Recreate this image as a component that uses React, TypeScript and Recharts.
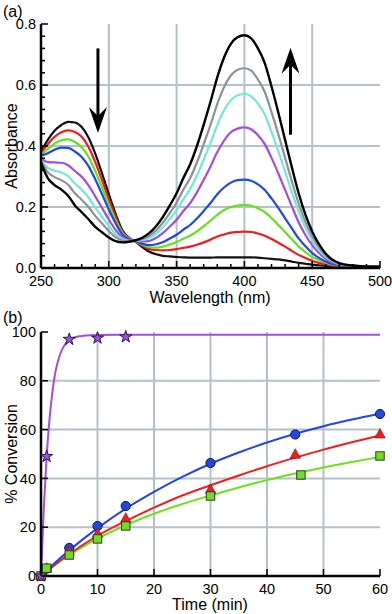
import React from "react";
import { LineChart, Line, XAxis, YAxis, CartesianGrid, ReferenceLine, Symbols } from "recharts";

const FONT = '"Liberation Sans", Arial, Helvetica, sans-serif';

// ---- (a) spectra ----
const wavelengths = [
  250, 255, 260, 265, 270, 275, 280, 285, 290, 295,
  300, 305, 310, 315, 320, 325, 330, 335, 340, 345,
  350, 355, 360, 365, 370, 375, 380, 385, 390, 395,
  400, 405, 410, 415, 420, 425, 430, 435, 440, 445,
  450, 455, 460, 465, 470, 480, 490, 500,
];
const absStart = [
  0.381, 0.42, 0.45, 0.469, 0.479, 0.477, 0.462, 0.428, 0.375, 0.31,
  0.242, 0.178, 0.124, 0.099, 0.085, 0.068, 0.053, 0.045, 0.04, 0.038,
  0.036, 0.035, 0.034, 0.034, 0.034, 0.034, 0.035, 0.035, 0.035, 0.035,
  0.035, 0.035, 0.034, 0.032, 0.03, 0.028, 0.025, 0.021, 0.017, 0.014,
  0.011, 0.009, 0.007, 0.006, 0.005, 0.005, 0.004, 0.004,
];
const absRed = [
  0.377, 0.406, 0.43, 0.445, 0.451, 0.446, 0.43, 0.397, 0.347, 0.288,
  0.226, 0.168, 0.119, 0.098, 0.086, 0.073, 0.062, 0.059, 0.058, 0.059,
  0.062, 0.066, 0.07, 0.076, 0.084, 0.093, 0.103, 0.11, 0.116, 0.118,
  0.119, 0.118, 0.113, 0.106, 0.095, 0.083, 0.07, 0.056, 0.043, 0.033,
  0.024, 0.017, 0.012, 0.008, 0.006, 0.005, 0.004, 0.004,
];
const absGreen = [
  0.372, 0.39, 0.408, 0.419, 0.422, 0.413, 0.396, 0.365, 0.318, 0.264,
  0.208, 0.157, 0.115, 0.096, 0.086, 0.076, 0.068, 0.067, 0.07, 0.077,
  0.085, 0.096, 0.106, 0.12, 0.137, 0.155, 0.174, 0.19, 0.2, 0.205,
  0.207, 0.204, 0.196, 0.183, 0.164, 0.141, 0.118, 0.094, 0.071, 0.052,
  0.036, 0.026, 0.017, 0.011, 0.008, 0.006, 0.004, 0.004,
];
const absBlue = [
  0.368, 0.376, 0.388, 0.395, 0.394, 0.382, 0.364, 0.334, 0.291, 0.242,
  0.192, 0.147, 0.11, 0.094, 0.087, 0.079, 0.075, 0.078, 0.085, 0.097,
  0.109, 0.126, 0.141, 0.162, 0.187, 0.213, 0.242, 0.264, 0.28, 0.288,
  0.29, 0.286, 0.274, 0.256, 0.228, 0.197, 0.163, 0.13, 0.097, 0.071,
  0.049, 0.033, 0.021, 0.013, 0.009, 0.006, 0.004, 0.004,
];
const absPurple = [
  0.36, 0.347, 0.346, 0.345, 0.337, 0.318, 0.299, 0.271, 0.235, 0.197,
  0.159, 0.125, 0.101, 0.091, 0.089, 0.087, 0.089, 0.099, 0.115, 0.136,
  0.158, 0.187, 0.213, 0.248, 0.289, 0.333, 0.38, 0.418, 0.445, 0.457,
  0.461, 0.455, 0.435, 0.406, 0.361, 0.31, 0.256, 0.202, 0.15, 0.108,
  0.075, 0.049, 0.03, 0.018, 0.011, 0.007, 0.005, 0.004,
];
const absCyan = [
  0.355, 0.328, 0.319, 0.313, 0.301, 0.277, 0.257, 0.231, 0.198, 0.168,
  0.138, 0.112, 0.095, 0.089, 0.089, 0.092, 0.099, 0.113, 0.134, 0.161,
  0.19, 0.226, 0.259, 0.303, 0.355, 0.41, 0.469, 0.517, 0.55, 0.566,
  0.571, 0.563, 0.539, 0.503, 0.446, 0.383, 0.316, 0.248, 0.185, 0.133,
  0.091, 0.06, 0.036, 0.022, 0.013, 0.007, 0.005, 0.004,
];
const absGray = [
  0.35, 0.314, 0.298, 0.288, 0.273, 0.245, 0.224, 0.2, 0.171, 0.146,
  0.121, 0.101, 0.09, 0.088, 0.09, 0.095, 0.106, 0.124, 0.149, 0.18,
  0.214, 0.257, 0.295, 0.346, 0.406, 0.469, 0.538, 0.593, 0.631, 0.65,
  0.655, 0.647, 0.618, 0.577, 0.511, 0.439, 0.362, 0.284, 0.211, 0.151,
  0.104, 0.068, 0.041, 0.024, 0.014, 0.008, 0.005, 0.004,
];
const absEnd = [
  0.345, 0.295, 0.272, 0.257, 0.237, 0.205, 0.183, 0.16, 0.135, 0.117,
  0.1, 0.088, 0.084, 0.086, 0.091, 0.1, 0.115, 0.138, 0.168, 0.205,
  0.245, 0.295, 0.34, 0.4, 0.47, 0.545, 0.625, 0.69, 0.735, 0.757,
  0.763, 0.753, 0.72, 0.672, 0.595, 0.51, 0.42, 0.33, 0.245, 0.175,
  0.12, 0.078, 0.047, 0.027, 0.016, 0.008, 0.005, 0.004,
];

const spectra = [
  { key: "start", color: "#111111", values: absStart },
  { key: "red", color: "#ee1c1c", values: absRed },
  { key: "green", color: "#66e01c", values: absGreen },
  { key: "blue", color: "#1f47e6", values: absBlue },
  { key: "purple", color: "#a34be6", values: absPurple },
  { key: "cyan", color: "#70e8da", values: absCyan },
  { key: "gray", color: "#8a9296", values: absGray },
  { key: "end", color: "#000000", values: absEnd },
];
const specData = wavelengths.map((w, i) => {
  const row: any = { w };
  spectra.forEach((s) => (row[s.key] = s.values[i]));
  return row;
});

const wlTicks = [250, 260, 270, 280, 290, 300, 310, 320, 330, 340, 350, 360, 370, 380, 390, 400, 410, 420, 430, 440, 450, 460, 470, 480, 490, 500];
const absTicks = [0, 0.04, 0.08, 0.12, 0.16, 0.2, 0.24, 0.28, 0.32, 0.36, 0.4, 0.44, 0.48, 0.52, 0.56, 0.6, 0.64, 0.68, 0.72, 0.76, 0.8];
const wlGrid = [300, 350, 400, 450];
const absGrid = [0.2, 0.4, 0.6];
const arrowDown = [{ x: 292, y: 0.72 }, { x: 292, y: 0.443 }];
const arrowUp = [{ x: 434, y: 0.437 }, { x: 434, y: 0.722 }];

// ---- (b) kinetics ----
const starTimes = [0, 1, 5, 10, 15];
const starConv = [0, 49, 97, 97.5, 98];
const circleTimes = [0, 1, 5, 10, 15, 30, 45, 60];
const circleConv = [0, 3, 11.5, 20.5, 28.7, 46.3, 58, 66.4];
const triTimes = [0, 1, 5, 10, 15, 30, 45, 60];
const triConv = [0, 3, 10, 17.3, 23.5, 35.3, 49.7, 58];
const squareTimes = [0, 1, 5, 10, 15, 30, 46, 60];
const squareConv = [0, 3.2, 8.6, 15.2, 20.5, 32.8, 41.4, 49.2];

const fitTimes = [0, 2, 5, 10, 15, 20, 25, 30, 35, 40, 45, 50, 55, 60];
const blueFit = [0, 4.4, 10.5, 19.6, 27.6, 34.5, 40.6, 46, 50.6, 54.7, 58.3, 61.4, 64.1, 66.5];
const redFit = [0, 3.8, 9, 16.5, 22.5, 28, 33, 37.2, 41.2, 45, 48.5, 51.8, 54.8, 57.6];
const greenFit = [0, 3.6, 8.5, 15.3, 20.8, 25.5, 29.5, 33, 36.3, 39.3, 42, 44.5, 46.7, 48.8];
const purpleFitTimes = [0, 0.5, 1, 1.5, 2, 2.5, 3, 3.5, 4, 5, 6, 7, 8, 10, 15, 20, 30, 40, 50, 60];
const purpleFit = [0, 28, 49, 64, 75, 83, 88, 91.5, 94, 96.6, 97.8, 98.3, 98.6, 98.8, 98.9, 98.9, 98.9, 98.9, 98.9, 98.9];

const timeTicks = [0, 10, 20, 30, 40, 50, 60];
const convTicks = [0, 20, 40, 60, 80, 100];
const timeGrid = [10, 20, 30, 40, 50];
const convGrid = [20, 40, 60, 80];

const pts = (t: number[], v: number[]) => t.map((x, i) => ({ t: x, p: v[i] }));

const PURPLE = "#a34be6";
const BLUE = "#2445e6";
const RED = "#f01e1e";
const GREEN = "#6ee01e";
const GRID = "#b3c1c8";
const FRAME = { stroke: "#000", strokeWidth: 2.5 };

type Orient = "bottom" | "top" | "left" | "right";
function axisTick(orient: Orient, isMajor: (v: number) => boolean, fmt?: (v: number) => string) {
  return (p: any) => {
    const v = p.payload.value;
    const major = isMajor(v);
    const len = major ? 7 : 4;
    const { x, y } = p;
    let line;
    if (orient === "bottom") line = <line x1={x} x2={x} y1={y} y2={y - len} />;
    else if (orient === "top") line = <line x1={x} x2={x} y1={y} y2={y + len} />;
    else if (orient === "left") line = <line x1={x} x2={x + len} y1={y} y2={y} />;
    else line = <line x1={x} x2={x - len} y1={y} y2={y} />;
    const txt = { fontFamily: FONT, fontSize: 14.5, fill: "#000", stroke: "none" };
    return (
      <g stroke="#000" strokeWidth={1.5}>
        {line}
        {fmt && major && orient === "bottom" && (
          <text x={x} y={y + 8} dy="0.71em" textAnchor="middle" {...txt}>{fmt(v)}</text>
        )}
        {fmt && major && orient === "left" && (
          <text x={x - 5} y={y} dy="0.36em" textAnchor="end" {...txt}>{fmt(v)}</text>
        )}
      </g>
    );
  };
}

const wlMajor = (v: number) => v % 50 === 0;
const absMajor = (v: number) => Math.abs(v * 5 - Math.round(v * 5)) < 1e-6;
const all = () => true;

function Arrow(p: any) {
  const { x1, y1, x2, y2 } = p;
  const dir = y2 > y1 ? 1 : -1;
  const notch = y2 - dir * 17;
  const back = y2 - dir * 26;
  return (
    <g>
      <line x1={x1} y1={y1} x2={x2} y2={notch} stroke="#000" strokeWidth={3} />
      <polygon points={`${x2},${y2} ${x2 - 9},${back} ${x2},${notch} ${x2 + 9},${back}`} fill="#000" />
    </g>
  );
}

function Star(p: any) {
  return <Symbols key={p.key} cx={p.cx} cy={p.cy} type="star" size={46} fill={PURPLE} stroke="#2a1a3a" strokeWidth={1} />;
}
function Circle(p: any) {
  return <circle key={p.key} cx={p.cx} cy={p.cy} r={4.6} fill={BLUE} stroke="#101840" strokeWidth={1} />;
}
function Tri(p: any) {
  const { cx, cy } = p;
  return <polygon key={p.key} points={`${cx},${cy - 6} ${cx + 5.2},${cy + 3.5} ${cx - 5.2},${cy + 3.5}`} fill={RED} stroke="#801010" strokeWidth={0.6} />;
}
function Square(p: any) {
  const { cx, cy } = p;
  return <rect key={p.key} x={cx - 4.2} y={cy - 4.2} width={8.4} height={8.4} fill={GREEN} stroke="#333" strokeWidth={1} />;
}

export default function App() {
  const title = { fontFamily: FONT, fontSize: 16, fill: "#000" };
  return (
    <div style={{ position: "absolute", left: 0, top: 0, width: 392, height: 614, background: "#fff" }}>
      <div style={{ position: "absolute", left: 0, top: 0 }}>
        <LineChart width={392} height={310} data={specData} margin={{ top: 24, right: 12, left: 0, bottom: 0 }}>
          <CartesianGrid stroke={GRID} strokeWidth={2} verticalValues={wlGrid} horizontalValues={absGrid} />
          <XAxis dataKey="w" type="number" domain={[250, 500]} ticks={wlTicks} interval={0}
            height={42} tickSize={0} tickMargin={0} tickLine={false} axisLine={FRAME}
            tick={axisTick("bottom", wlMajor, (v) => String(v))} />
          <XAxis xAxisId="top" orientation="top" type="number" domain={[250, 500]} ticks={wlTicks} interval={0} allowDataOverflow
            height={0} tickSize={0} tickMargin={0} tickLine={false} axisLine={FRAME} tick={axisTick("top", wlMajor)} />
          <YAxis type="number" domain={[0, 0.8]} ticks={absTicks} interval={0} width={41}
            tickSize={0} tickMargin={0} tickLine={false} axisLine={FRAME}
            tick={axisTick("left", absMajor, (v) => v.toFixed(1))} />
          <YAxis yAxisId="right" orientation="right" type="number" domain={[0, 0.8]} ticks={absTicks} interval={0} allowDataOverflow
            width={0} tickSize={0} tickMargin={0} tickLine={false} axisLine={FRAME} tick={axisTick("right", absMajor)} />
          {spectra.map((s) => (
            <Line key={s.key} type="monotone" dataKey={s.key} stroke={s.color} strokeWidth={s.key === "end" ? 2.4 : 2.2}
              dot={false} activeDot={false} isAnimationActive={false} />
          ))}
          <ReferenceLine segment={arrowDown} shape={Arrow} ifOverflow="visible" />
          <ReferenceLine segment={arrowUp} shape={Arrow} ifOverflow="visible" />
        </LineChart>
      </div>
      <div style={{ position: "absolute", left: 0, top: 310 }}>
        <LineChart width={392} height={304} margin={{ top: 22, right: 12, left: 0, bottom: 0 }}>
          <CartesianGrid stroke={GRID} strokeWidth={2} verticalValues={timeGrid} horizontalValues={convGrid} />
          <XAxis dataKey="t" type="number" domain={[0, 60]} ticks={timeTicks} interval={0}
            height={38} tickSize={0} tickMargin={0} tickLine={false} axisLine={FRAME}
            tick={axisTick("bottom", all, (v) => String(v))} />
          <XAxis xAxisId="top" orientation="top" type="number" domain={[0, 60]} ticks={timeTicks} interval={0} allowDataOverflow
            height={0} tickSize={0} tickMargin={0} tickLine={false} axisLine={FRAME} tick={axisTick("top", all)} />
          <YAxis type="number" domain={[0, 100]} ticks={convTicks} interval={0} width={41}
            tickSize={0} tickMargin={0} tickLine={false} axisLine={FRAME}
            tick={axisTick("left", all, (v) => String(v))} />
          <YAxis yAxisId="right" orientation="right" type="number" domain={[0, 100]} ticks={convTicks} interval={0} allowDataOverflow
            width={0} tickSize={0} tickMargin={0} tickLine={false} axisLine={FRAME} tick={axisTick("right", all)} />
          <Line data={pts(purpleFitTimes, purpleFit)} type="monotone" dataKey="p" stroke={PURPLE} strokeWidth={2} dot={false} activeDot={false} isAnimationActive={false} />
          <Line data={pts(fitTimes, greenFit)} type="monotone" dataKey="p" stroke={GREEN} strokeWidth={2} dot={false} activeDot={false} isAnimationActive={false} />
          <Line data={pts(fitTimes, redFit)} type="monotone" dataKey="p" stroke={RED} strokeWidth={2} dot={false} activeDot={false} isAnimationActive={false} />
          <Line data={pts(fitTimes, blueFit)} type="monotone" dataKey="p" stroke={BLUE} strokeWidth={2} dot={false} activeDot={false} isAnimationActive={false} />
          <Line data={pts(circleTimes, circleConv)} dataKey="p" stroke="none" dot={Circle} activeDot={false} isAnimationActive={false} />
          <Line data={pts(triTimes, triConv)} dataKey="p" stroke="none" dot={Tri} activeDot={false} isAnimationActive={false} />
          <Line data={pts(squareTimes, squareConv)} dataKey="p" stroke="none" dot={Square} activeDot={false} isAnimationActive={false} />
          <Line data={pts(starTimes, starConv)} dataKey="p" stroke="none" dot={Star} activeDot={false} isAnimationActive={false} />
        </LineChart>
      </div>
      <svg width={392} height={614} style={{ position: "absolute", left: 0, top: 0, pointerEvents: "none" }}>
        <text x={3} y={17} {...title}>(a)</text>
        <text x={3} y={323} {...title}>(b)</text>
        <text x={210} y={303} textAnchor="middle" {...title}>Wavelength (nm)</text>
        <text x={210} y={610} textAnchor="middle" {...title}>Time (min)</text>
        <text x={11} y={146} textAnchor="middle" dominantBaseline="central" transform="rotate(-90 11 146)" {...title}>Absorbance</text>
        <text x={11} y={454} textAnchor="middle" dominantBaseline="central" transform="rotate(-90 11 454)" {...title}>% Conversion</text>
      </svg>
    </div>
  );
}
